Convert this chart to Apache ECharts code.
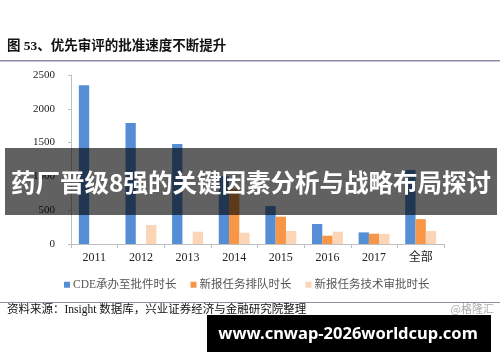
<!DOCTYPE html>
<html>
<head>
<meta charset="utf-8">
<script src="https://cdn.jsdelivr.net/npm/echarts@6/dist/echarts.min.js"></script>
<style>
html,body{margin:0;padding:0;background:#fff;}
#c{width:500px;height:362px;}
</style>
</head>
<body>
<div id="c"></div>
<script>
const categories = ['2011','2012','2013','2014','2015','2016','2017','全部'];
const seriesNames = ['CDE承办至批件时长','新报任务排队时长','新报任务技术审批时长'];
const cdeTotal = [2350, 1790, 1480, 1000, 562, 296, 172, 1095];
const queueTime = [null, null, null, 814, 404, 123, 152, 368];
const reviewTime = [null, 281, 182, 168, 192, 182, 150, 192];
const yTicks = {min: 0, max: 2500, interval: 500};

const titleText = '图 53、优先审评的批准速度不断提升';
const sourceText = '资料来源：Insight 数据库，兴业证券经济与金融研究院整理';
const watermark = '@格隆汇';
const bannerText = '药厂晋级8强的关键因素分析与战略布局探讨';
const urlText = 'www.cnwap-2026worldcup.com';

const colors = ['#558ED5', '#F79646', '#FBD5B5'];
const cjk = '"Liberation Serif","Noto Sans CJK SC",serif';

const chart = echarts.init(document.getElementById('c'), null, {renderer: 'canvas'});
chart.setOption({
  animation: false,
  color: colors,
  grid: {left: 71, right: 56, top: 75, bottom: 118, containLabel: false},
  legend: {
    left: 64, top: 279, padding: 0,
    itemWidth: 6, itemHeight: 6, itemGap: 14, icon: 'rect',
    textStyle: {fontSize: 11.5, color: '#555', fontFamily: cjk, padding: [0,0,0,-2]},
    data: seriesNames
  },
  xAxis: {
    type: 'category', data: categories,
    axisLine: {lineStyle: {color: '#bfbfbf'}},
    axisTick: {show: true, length: 4, lineStyle: {color: '#bfbfbf'}},
    axisLabel: {fontSize: 12, color: '#222', margin: 8, fontFamily: cjk}
  },
  yAxis: {
    type: 'value', min: yTicks.min, max: yTicks.max, interval: yTicks.interval,
    axisLine: {show: true, lineStyle: {color: '#bfbfbf'}},
    axisTick: {show: true, length: 3, lineStyle: {color: '#bfbfbf'}},
    splitLine: {show: false},
    axisLabel: {fontSize: 11, color: '#222', margin: 16, fontFamily: cjk, formatter: v => String(v)}
  },
  series: [
    {name: seriesNames[0], type: 'bar', data: cdeTotal, barWidth: 10.3, barGap: '0%'},
    {name: seriesNames[1], type: 'bar', data: queueTime, barWidth: 10.3, barGap: '0%'},
    {name: seriesNames[2], type: 'bar', data: reviewTime, barWidth: 10.3, barGap: '0%'}
  ],
  graphic: [
    {type: 'text', left: 7, top: 40, z: 10, style: {text: titleText, fontSize: 13.5, fontWeight: 'bold', fill: '#111', fontFamily: cjk}},
    {type: 'rect', shape: {x: 0, y: 60, width: 500, height: 1.5}, style: {fill: '#8c8cab'}, z: 10},
    {type: 'rect', shape: {x: 0, y: 302, width: 500, height: 1}, style: {fill: '#8c8cab'}, z: 10},
    {type: 'text', left: 7, top: 304, z: 10, style: {text: sourceText, fontSize: 11.5, fill: '#111', fontFamily: cjk}},
    {type: 'text', right: 6, top: 303, z: 10, style: {text: watermark, fontSize: 11, fill: '#aaa', fontFamily: '"Noto Sans CJK SC",sans-serif'}},
    {type: 'rect', shape: {x: 5, y: 148, width: 492, height: 67}, style: {fill: 'rgba(0,0,0,0.62)'}, z: 20},
    {type: 'text', x: 251, y: 183, z: 21, style: {text: bannerText, fontSize: 24.5, fontWeight: 'bold', fill: '#fff', align: 'center', verticalAlign: 'middle', fontFamily: '"Noto Sans CJK SC",sans-serif'}},
    {type: 'rect', shape: {x: 207, y: 315, width: 284, height: 37}, style: {fill: '#000'}, z: 20},
    {type: 'text', x: 348, y: 334, z: 21, style: {text: urlText, fontSize: 16.5, fontWeight: 'bold', fill: '#fff', align: 'center', verticalAlign: 'middle', fontFamily: '"Noto Sans","Open Sans",sans-serif'}}
  ]
});
</script>
</body>
</html>
